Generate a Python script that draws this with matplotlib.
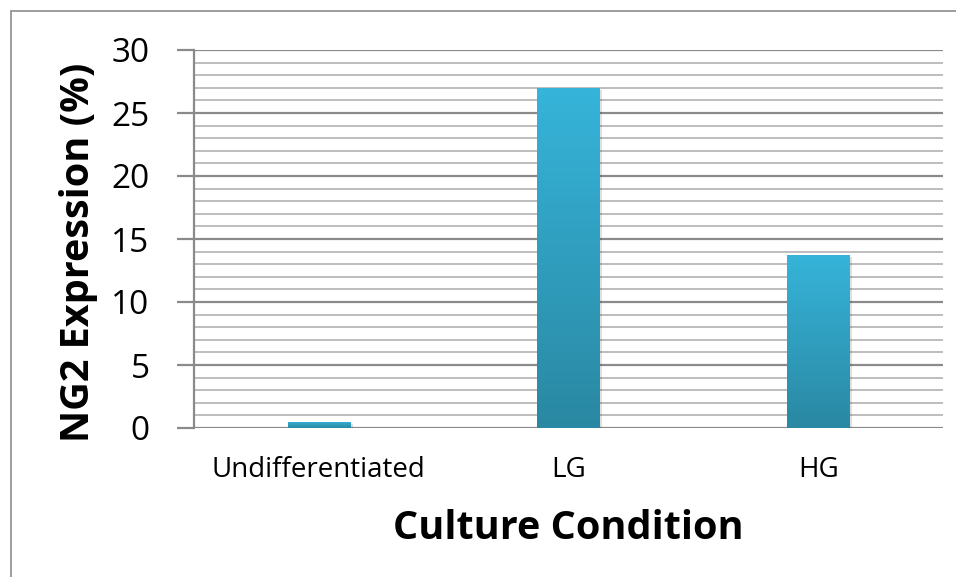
import matplotlib.pyplot as plt
import numpy as np
from matplotlib.colors import LinearSegmentedColormap
from matplotlib.patches import Rectangle

conditions = ["Undifferentiated", "LG", "HG"]
ng2_expression = [0.5, 27.0, 13.7]

plt.rcParams['font.family'] = ['Open Sans', 'DejaVu Sans']

fig = plt.figure(figsize=(9.56, 5.77), dpi=100)
# outer chart frame
fig.patches.append(Rectangle((11 / 956, -0.1), 1.2, 1 - 11 / 577 + 0.1,
                             transform=fig.transFigure, fill=False,
                             edgecolor='#8c8c8c', linewidth=1.2))
ax = fig.add_axes([194 / 956, 1 - 428 / 577, (943 - 194) / 956, (428 - 50) / 577])

x = np.arange(len(conditions))

# minor and major gridlines
for v in range(0, 31):
    major = v % 5 == 0
    ax.axhline(v, color='#8a8a8a' if major else '#b8b8b8',
               linewidth=1.6 if major else 1.3, zorder=1)

grad = LinearSegmentedColormap.from_list('bar', ['#2a88a2', '#36b4da'])
width = 0.25
for xi, val in zip(x, ng2_expression):
    # soft shadow
    ax.add_patch(Rectangle((xi - width / 2 + 0.01, -0.15), width, val,
                           facecolor='#000000', alpha=0.12, edgecolor='none', zorder=2))
    bar = ax.bar(xi, val, width=width, color='none', edgecolor='none', zorder=3)[0]
    img = ax.imshow(np.linspace(0, 1, 256).reshape(-1, 1), cmap=grad, origin='lower',
                    extent=(xi - width / 2, xi + width / 2, 0, val),
                    aspect='auto', zorder=3)
    img.set_clip_path(bar)

ax.set_aspect('auto')
ax.set_xlim(-0.5, 2.5)
ax.set_ylim(0, 30)

for s in ['top', 'right', 'bottom']:
    ax.spines[s].set_visible(False)
ax.spines['left'].set_color('#8a8a8a')
ax.spines['left'].set_linewidth(1.6)

ax.set_yticks(range(0, 31, 5))
ax.set_xticks(x)
ax.set_xticklabels(conditions, fontsize=20)
ax.tick_params(axis='y', length=12, width=1.6, color='#8a8a8a', labelsize=24, pad=20)
ax.tick_params(axis='x', length=0, pad=20)

ax.set_xlabel("Culture Condition", fontsize=28.5, fontweight='bold', labelpad=18)
ax.set_ylabel("NG2 Expression (%)", fontsize=28.5, fontweight='bold')
ax.yaxis.set_label_coords(-0.128, 0.466)

fig.savefig('out.png', dpi=100)
